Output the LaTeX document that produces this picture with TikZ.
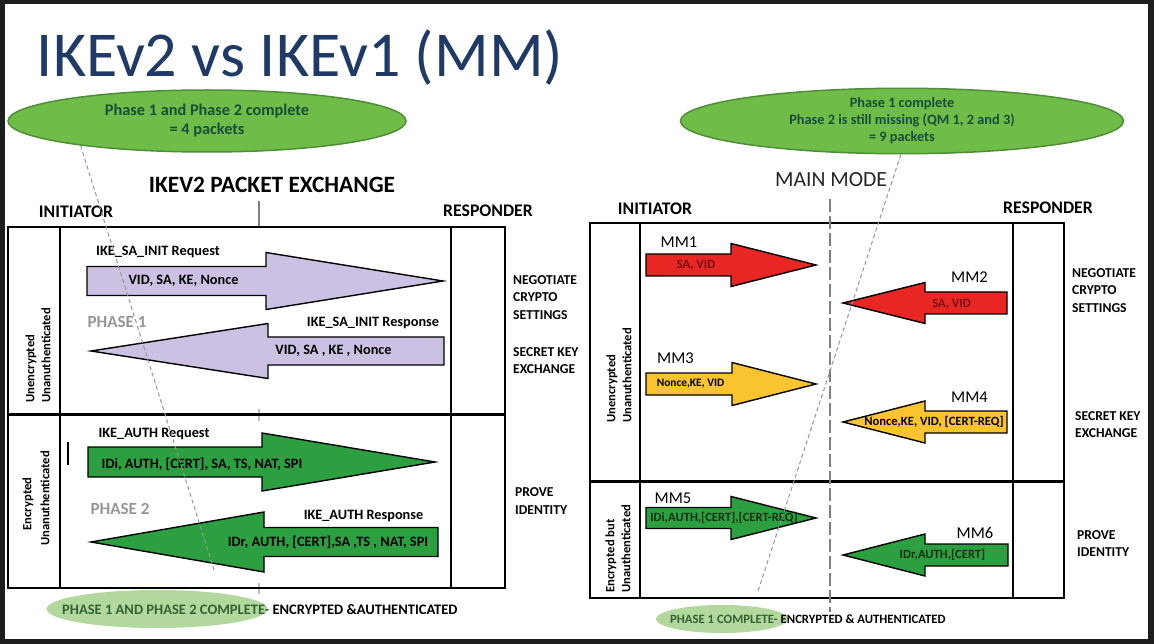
\documentclass[tikz,border=0pt]{standalone}
\usepackage{fontspec}
\setmainfont{Carlito}
\usetikzlibrary{shapes.geometric}
\definecolor{frameC}{RGB}{30,30,30}
\definecolor{titleC}{RGB}{31,58,102}
\definecolor{ovalF}{RGB}{112,188,72}
\definecolor{ovalD}{RGB}{78,142,55}
\definecolor{ovalT}{RGB}{26,76,58}
\definecolor{lightG}{RGB}{178,216,158}
\definecolor{lav}{RGB}{204,193,226}
\definecolor{grn}{RGB}{44,160,64}
\definecolor{redA}{RGB}{232,38,36}
\definecolor{yelA}{RGB}{250,196,48}
\definecolor{redT}{RGB}{120,18,18}
\definecolor{grnT}{RGB}{20,48,20}
\definecolor{phaseG}{RGB}{150,150,150}
\definecolor{lineG}{RGB}{150,150,150}
\definecolor{botG}{RGB}{52,98,52}
\newcommand\arrR[7]{\filldraw[blockarrow, fill=#1] ({#2},{#5-#6}) -- ({#3},{#5-#6}) -- ({#3},{#5-#7}) -- ({#4},{#5}) -- ({#3},{#5+#7}) -- ({#3},{#5+#6}) -- ({#2},{#5+#6}) -- cycle;}
\newcommand\arrL[7]{\filldraw[blockarrow, fill=#1] ({#2},{#5}) -- ({#3},{#5-#7}) -- ({#3},{#5-#6}) -- ({#4},{#5-#6}) -- ({#4},{#5+#6}) -- ({#3},{#5+#6}) -- ({#3},{#5+#7}) -- cycle;}
\begin{document}
\begin{tikzpicture}[x=1pt,y=-1pt,
  blockarrow/.style={draw=black, line width=1.4pt, line join=miter},
  oval/.style={ellipse, draw=ovalD, line width=1.5pt, fill=ovalF, inner sep=0pt, align=center, text=ovalT},
  boxline/.style={draw=black, line width=1.5pt},
  hdr/.style={font=\fontsize{17.7}{20}\selectfont\bfseries, text=black, inner sep=0pt},
  side/.style={font=\fontsize{13.6}{17.5}\selectfont\bfseries, align=left, anchor=west, inner sep=0pt},
  vlab/.style={font=\fontsize{12.6}{14}\selectfont\bfseries, rotate=90, inner sep=0pt},
  albl/.style={font=\fontsize{14.3}{16}\selectfont\bfseries, inner sep=0pt},
  acont/.style={font=\fontsize{14.3}{16}\selectfont\bfseries, inner sep=0pt},
  phase/.style={font=\fontsize{17}{19}\selectfont\bfseries, text=phaseG, inner sep=0pt},
  mm/.style={font=\fontsize{16.5}{20}\selectfont, inner sep=0pt},
  mmc/.style={font=\fontsize{12.6}{14}\selectfont\bfseries, inner sep=0pt},
  diag/.style={draw=lineG, line width=1pt, dash pattern=on 4pt off 3pt},
  tick/.style={draw=lineG!85!black, line width=1.5pt}
]
\fill[frameC] (0,0) rectangle (1154,644);
\fill[white] (4.5,4.5) rectangle (1148,639);
\useasboundingbox (0,0) rectangle (1154,644);

% title
\node[anchor=base, font=\fontsize{64}{70}\selectfont, text=titleC, inner sep=0pt] (title) at (300,77) {IKEv2 vs IKEv1 (MM)};

% ovals
\node[oval, minimum width=398pt, minimum height=62pt, font=\fontsize{16.3}{19}\selectfont\bfseries] (ovalL) at (207,121) {Phase 1 and Phase 2 complete\\= 4 packets};
\node[oval, minimum width=443pt, minimum height=62pt, font=\fontsize{14.3}{17}\selectfont\bfseries] (ovalR) at (902,121) {Phase 1 complete\\Phase 2 is still missing (QM 1, 2 and 3)\\= 9 packets};

% ===== LEFT PANEL =====
\node[font=\fontsize{23.4}{27}\selectfont\bfseries, inner sep=0pt] (hdrL) at (272,185) {IKEV2 PACKET EXCHANGE};
\node[hdr] (iniL) at (76,212) {INITIATOR};
\node[hdr] (resL) at (488,211) {RESPONDER};
\coordinate (tickT) at (259,201);
\coordinate (tickB) at (259,227);
\draw[tick] (tickT) -- (tickB);
\draw[tick, draw=lineG!60] (259,409) -- (259,421);
\draw[tick, draw=lineG!60] (259,583) -- (259,594);

\draw[boxline] (8,227) rectangle (505,588);
\draw[boxline] (60,227) -- (60,588);
\draw[boxline] (451,227) -- (451,588);
\draw[draw=black, line width=3pt] (8,414) -- (505,414);

\node[vlab, anchor=west] (vl1) at (31,403) {Unencrypted};
\node[vlab, anchor=west] (vl2) at (46,403) {Unanuthenticated};
\node[vlab] (vl3) at (28,504) {Encrypted};
\node[vlab] (vl4) at (45,498.5) {Unanuthenticated};

\draw[black, line width=2pt] (68,442) -- (68,465);

\arrR{lav}{87}{266}{443}{281}{14.5}{28.5}
\arrL{lav}{91}{268}{444}{351}{14}{27.5}
\arrR{grn}{88}{262}{435}{462}{15}{29}
\arrL{grn}{91}{264}{438}{542}{14.5}{30}

\node[albl] (l1) at (158,252) {IKE\_SA\_INIT Request};
\node[acont] (c1) at (183.5,281) {VID, SA, KE, Nonce};
\node[phase] (ph1) at (117,322) {PHASE 1};
\node[albl] (l2) at (373,323) {IKE\_SA\_INIT Response};
\node[acont] (c2) at (333.5,351) {VID, SA , KE , Nonce};
\node[albl] (l3) at (154,434) {IKE\_AUTH Request};
\node[acont] (c3) at (202,464) {IDi, AUTH, [CERT], SA, TS, NAT, SPI};
\node[phase] (ph2) at (120,509) {PHASE 2};
\node[albl] (l4) at (363.5,516) {IKE\_AUTH Response};
\node[acont] (c4) at (328,542) {IDr, AUTH, [CERT],SA ,TS , NAT, SPI};

\node[side] (sL1) at (513,297.5) {NEGOTIATE\\CRYPTO\\SETTINGS};
\node[side] (sL2) at (513,360.5) {SECRET KEY\\EXCHANGE};
\node[side] (sL3) at (515,501) {PROVE\\IDENTITY};

% bottom left
\node[ellipse, fill=lightG, minimum width=221pt, minimum height=38pt, inner sep=0pt] (botEL) at (157,609) {};
\node[anchor=west, font=\fontsize{14.5}{16}\selectfont\bfseries, inner sep=0pt] (botTL) at (62,610) {\textcolor{botG}{PHASE 1 AND PHASE 2 COMPLETE-} ENCRYPTED \&AUTHENTICATED};

% diagonal left
\coordinate (dLend) at (215,573);
\draw[diag] (ovalL.191) -- (dLend);

% ===== RIGHT PANEL =====
\node[font=\fontsize{21.6}{26}\selectfont, text=black!85, inner sep=0pt] (hdrR) at (831,180) {MAIN MODE};
\node[hdr] (iniR) at (655,209) {INITIATOR};
\node[hdr] (resR) at (1048,208) {RESPONDER};

\draw[boxline] (590,223) rectangle (1064,598);
\draw[boxline] (640,223) -- (640,598);
\draw[boxline] (1013,223) -- (1013,598);
\draw[draw=black, line width=3pt] (590,481) -- (1064,481);

\node[vlab, anchor=west] (vr1) at (612,423) {Unencrypted};
\node[vlab, anchor=west] (vr2) at (627,423) {Unanuthenticated};
\node[vlab, anchor=west] (vr3) at (611,593) {Encrypted but};
\node[vlab, anchor=west] (vr4) at (626,593) {Unauthenticated};

\arrR{redA}{646}{731}{816}{265}{11}{21.5}
\arrL{redA}{843}{925}{1007}{303}{11}{20.5}
\arrR{yelA}{646}{732}{816}{384}{11}{21.5}
\arrL{yelA}{843}{925}{1007}{422}{11}{21}
\arrR{grn}{646}{731}{816}{518}{10.5}{21.5}
\arrL{grn}{843}{925}{1008}{555}{11}{21}

\node[mm] (mm1) at (679,242) {MM1};
\node[mm] (mm2) at (969.5,277) {MM2};
\node[mm] (mm3) at (675.5,358) {MM3};
\node[mm] (mm4) at (969.5,397) {MM4};
\node[mm] (mm5) at (673,498) {MM5};
\node[mm] (mm6) at (975,533) {MM6};

\node[mmc, text=redT] (m1c) at (696,265) {SA, VID};
\node[mmc, text=redT] (m2c) at (951.5,304) {SA, VID};
\node[mmc, font=\fontsize{11.4}{14}\selectfont\bfseries] (m3c) at (690.5,384) {Nonce,KE, VID};
\node[mmc] (m4c) at (934,422) {Nonce,KE, VID, [CERT-REQ]};
\node[mmc, text=grnT] (m5c) at (724,518) {IDi,AUTH,[CERT],[CERT-REQ]};
\node[mmc, text=grnT] (m6c) at (942.5,555) {IDr,AUTH,[CERT]};

\node[side] (sR1) at (1072,290.5) {NEGOTIATE\\CRYPTO\\SETTINGS};
\node[side] (sR2) at (1075,424.5) {SECRET KEY\\EXCHANGE};
\node[side] (sR3) at (1077,543.5) {PROVE\\IDENTITY};

% main mode centre line
\coordinate (mmT) at (830,199);
\coordinate (mmB) at (830,612);
\draw[draw=lineG!85!black, line width=1.5pt, dash pattern=on 13pt off 4pt] (mmT) -- (mmB);

% bottom right
\node[ellipse, fill=lightG, minimum width=132pt, minimum height=28pt, inner sep=0pt] (botER) at (722,619) {};
\node[anchor=west, font=\fontsize{12.7}{15}\selectfont\bfseries, inner sep=0pt] (botTR) at (670,619) {\textcolor{botG}{PHASE 1 COMPLETE-} ENCRYPTED \& AUTHENTICATED};

% diagonal right
\coordinate (dRend) at (758,591);
\draw[diag] (ovalR.268) -- (dRend);
\end{tikzpicture}
\end{document}
